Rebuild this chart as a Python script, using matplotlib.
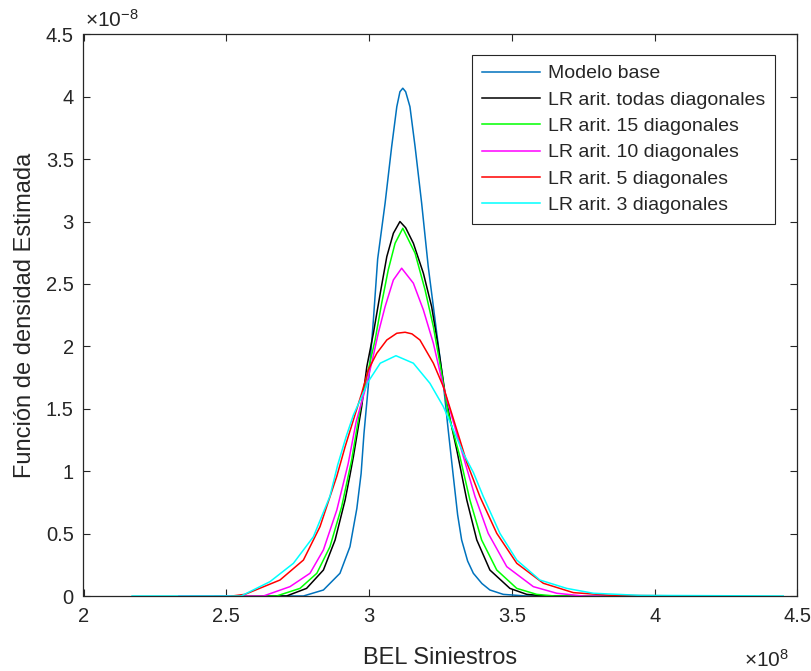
import numpy as np
import matplotlib
matplotlib.use('Agg')
import matplotlib.pyplot as plt
from matplotlib.ticker import FormatStrFormatter

plt.rcParams['font.family'] = ['Liberation Sans', 'DejaVu Sans']
plt.rcParams['mathtext.fontset'] = 'custom'
plt.rcParams['mathtext.rm'] = 'Liberation Sans'
plt.rcParams['mathtext.it'] = 'Liberation Sans:italic'
plt.rcParams['mathtext.bf'] = 'Liberation Sans:bold'

# x in 1e8, y in 1e-8
x_base = [2.62, 2.77, 2.84, 2.898, 2.933, 2.957, 2.972, 2.982, 2.997, 3.015, 3.030, 3.056, 3.079,
          3.097, 3.108, 3.118, 3.128, 3.143, 3.161, 3.184, 3.207, 3.225, 3.240, 3.260, 3.277,
          3.295, 3.310, 3.324, 3.345, 3.365, 3.395, 3.423, 3.47, 3.55, 3.71]
y_base = [0, 0, 0.048, 0.182, 0.395, 0.70, 0.98, 1.30, 1.677, 2.211, 2.70, 3.147, 3.60,
          3.92, 4.04, 4.068, 4.04, 3.92, 3.60, 3.147, 2.64, 2.318, 2.05, 1.70, 1.33,
          0.956, 0.65, 0.449, 0.28, 0.182, 0.10, 0.048, 0.013, 0.0, 0]

x_todas = [2.46, 2.711, 2.781, 2.840, 2.881, 2.916, 2.932, 2.945, 2.974, 2.992, 3.015, 3.039,
           3.062, 3.085, 3.108, 3.128, 3.155, 3.19, 3.219, 3.242, 3.266, 3.285, 3.307, 3.342,
           3.377, 3.423, 3.493, 3.552, 3.62, 3.85]
y_todas = [0, 0, 0.061, 0.208, 0.449, 0.769, 0.956, 1.116, 1.517, 1.837, 2.105, 2.425,
           2.719, 2.906, 3.0, 2.95, 2.826, 2.586, 2.318, 1.998, 1.624, 1.40, 1.17, 0.769,
           0.449, 0.208, 0.061, 0.013, 0.0, 0]

x_15 = [2.375, 2.676, 2.758, 2.817, 2.863, 2.904, 2.939, 2.968, 2.997, 3.021, 3.044, 3.067,
        3.091, 3.118, 3.161, 3.196, 3.225, 3.254, 3.277, 3.318, 3.353, 3.394, 3.447, 3.517,
        3.587, 3.65, 3.88]
y_15 = [0, 0, 0.061, 0.182, 0.395, 0.716, 1.09, 1.49, 1.811, 2.051, 2.345, 2.612,
        2.826, 2.946, 2.746, 2.452, 2.158, 1.784, 1.464, 1.116, 0.769, 0.449, 0.208, 0.061,
        0.013, 0, 0]

x_10 = [2.334, 2.63, 2.723, 2.793, 2.840, 2.887, 2.927, 2.955, 2.986, 3.009, 3.032, 3.056,
        3.085, 3.114, 3.155, 3.19, 3.225, 3.26, 3.283, 3.33, 3.371, 3.417, 3.482, 3.575,
        3.657, 3.75, 4.03]
y_10 = [0, 0, 0.075, 0.182, 0.369, 0.689, 1.063, 1.40, 1.651, 1.865, 2.105, 2.318,
        2.532, 2.626, 2.506, 2.292, 2.025, 1.677, 1.49, 1.116, 0.796, 0.502, 0.235, 0.075,
        0.022, 0, 0]

x_5 = [2.52, 2.565, 2.688, 2.770, 2.828, 2.887, 2.916, 2.945, 2.974, 2.997, 3.027, 3.062,
       3.097, 3.126, 3.150, 3.178, 3.225, 3.26, 3.289, 3.318, 3.342, 3.388, 3.447, 3.517,
       3.61, 3.715, 3.85, 4.17]
y_5 = [0, 0.013, 0.128, 0.288, 0.555, 0.96, 1.196, 1.41, 1.624, 1.811, 1.945, 2.051,
       2.105, 2.113, 2.10, 2.051, 1.865, 1.677, 1.464, 1.25, 1.07, 0.796, 0.502, 0.262,
       0.102, 0.027, 0.005, 0]

x_3 = [2.17, 2.552, 2.653, 2.735, 2.805, 2.863, 2.89, 2.92, 2.945, 2.974, 2.997, 3.039,
       3.094, 3.155, 3.213, 3.26, 3.295, 3.33, 3.365, 3.4, 3.458, 3.517, 3.598, 3.692,
       3.785, 3.95, 4.45]
y_3 = [0, 0.0, 0.115, 0.262, 0.475, 0.80, 1.05, 1.28, 1.45, 1.597, 1.717, 1.865,
       1.925, 1.865, 1.704, 1.517, 1.33, 1.143, 0.99, 0.796, 0.502, 0.288, 0.128, 0.061,
       0.022, 0.005, 0]

labels = ['Modelo base', 'LR arit. todas diagonales', 'LR arit. 15 diagonales',
          'LR arit. 10 diagonales', 'LR arit. 5 diagonales', 'LR arit. 3 diagonales']
colors = ['#0072BD', 'k', '#00FF00', '#FF00FF', '#FF0000', '#00FFFF']
series = [(x_base, y_base), (x_todas, y_todas), (x_15, y_15),
          (x_10, y_10), (x_5, y_5), (x_3, y_3)]

axcol = '#262626'
fig = plt.figure(figsize=(8.12, 6.71), dpi=100)
ax = fig.add_axes([83.5/812, 75/671, 714/812, 561.7/671])

for (xs, ys), c, lab in zip(series, colors, labels):
    ax.plot(xs, ys, color=c, lw=1.1, label=lab)

ax.set_xlim(2, 4.5)
ax.set_ylim(0, 4.5)
ax.set_xticks(np.arange(2, 4.51, 0.5))
ax.set_yticks(np.arange(0, 4.51, 0.5))
ax.xaxis.set_major_formatter(FormatStrFormatter('%g'))
ax.yaxis.set_major_formatter(FormatStrFormatter('%g'))
ax.tick_params(direction='in', length=5, width=0.8, colors=axcol, labelsize=14.5,
               top=True, right=True)
ax.tick_params(axis='x', pad=8)
ax.tick_params(axis='y', pad=7)
for s in ax.spines.values():
    s.set_color(axcol)
    s.set_linewidth(0.9)

ax.set_xlabel('BEL Siniestros', fontsize=17, color=axcol, labelpad=15)
ax.set_ylabel('Función de densidad Estimada', fontsize=17, color=axcol, labelpad=7)

# exponent labels, MATLAB style
fig.text(85/812, 1 - 27/671, r'$\times10^{-8}$', fontsize=15, color=axcol, va='baseline')
fig.text(744/812, 1 - 667/671, r'$\times10^{8}$', fontsize=15, color=axcol, va='baseline')

leg = ax.legend(loc='upper right', bbox_to_anchor=((775 - 83.5)/714, (596 - 55)/561.7),
                borderaxespad=0, fontsize=14, frameon=True, fancybox=False,
                edgecolor=axcol, framealpha=1, handlelength=3.0, handletextpad=0.4,
                labelspacing=0.45, borderpad=0.5)
leg.get_frame().set_linewidth(0.8)
for t in leg.get_texts():
    t.set_color(axcol)

fig.savefig('out.png', dpi=100, facecolor='white')
